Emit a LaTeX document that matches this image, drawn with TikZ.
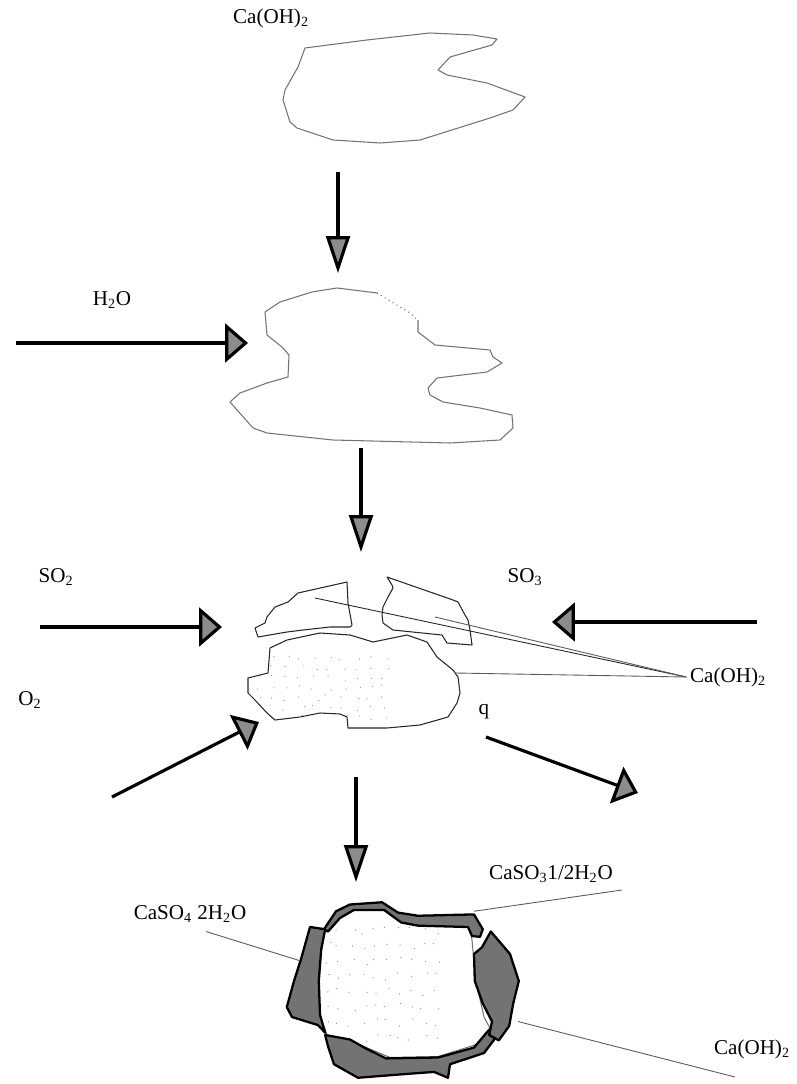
\documentclass[tikz,border=0pt]{standalone}
\usepackage{fontspec}
\setmainfont{Liberation Serif}
\usetikzlibrary{arrows.meta}
\tikzstyle{grain} = [draw=black!55, line width=0.6pt, line join=round]
\tikzstyle{frag} = [draw=black!85, line width=0.6pt, line join=round]
\tikzstyle{shell} = [draw=black, line width=1.3pt, fill=black!55, line join=round]
\tikzstyle{feed} = [line width=1.8pt, -{Triangle[length=13pt, width=22pt, fill=black!45]}]
\tikzstyle{fall} = [line width=1.8pt, -{Triangle[length=21pt, width=13.5pt, fill=black!45]}]
\tikzstyle{leader} = [draw=black!65, line width=0.5pt]
\tikzstyle{chem} = [font=\fontsize{12}{14}\selectfont, inner sep=1pt]
\tikzstyle{speck} = [fill=black!45]

\begin{document}
\begin{tikzpicture}[x=0.02cm, y=-0.02cm]
    \useasboundingbox (0,0) rectangle (796,1084);
    \pgfmathsetseed{11}

    % dry lime grain
    \node (limeTop) [chem] at (271,18) {Ca(OH)\textsubscript{2}};
    \draw [grain] (305,48) -- (367,40) -- (430,33) -- (473,35) -- (497,39) -- (492,45)
        -- (450,57) -- (438,70) -- (447,75) -- (487,83) -- (525,97) -- (513,110)
        -- (490,118) -- (420,140) -- (380,143) -- (333,140) -- (297,128) -- (290,122)
        -- (283,100) -- (285,90) -- (298,67) -- cycle;
    \coordinate (dropA) at (338,172);
    \coordinate (dropAEnd) at (338,273);
    \draw [fall] (dropA) -- (dropAEnd);

    % wetted grain
    \node (water) [chem] at (112,300) {H\textsubscript{2}O};
    \coordinate (waterIn) at (16,343);
    \coordinate (waterEnd) at (248,343);
    \draw [feed] (waterIn) -- (waterEnd);
    \draw [grain] (377,293) -- (337,288) -- (312,292) -- (280,302) -- (265,312) -- (267,335)
        -- (282,347) -- (289,355) -- (288,377) -- (267,383) -- (240,393) -- (230,402)
        -- (253,428) -- (267,433) -- (333,440) -- (450,443) -- (500,440) -- (513,428)
        -- (512,415) -- (480,408) -- (443,402) -- (430,395) -- (428,388) -- (437,378)
        -- (487,372) -- (502,363) -- (493,357) -- (490,350) -- (435,345) -- (418,332)
        -- (418,320);
    \draw [grain, dotted] (377,293) -- (410,313) -- (418,320);
    \coordinate (dropB) at (361,448);
    \coordinate (dropBEnd) at (361,552);
    \draw [fall] (dropB) -- (dropBEnd);

    % reacting grain
    \node (sdi) [chem] at (56,577) {SO\textsubscript{2}};
    \node (stri) [chem] at (525,577) {SO\textsubscript{3}};
    \node (oxy) [chem] at (30,700) {O\textsubscript{2}};
    \node (heat) [chem] at (484,712) {q};
    \node (limeMid) [chem, anchor=west] at (688,677) {Ca(OH)\textsubscript{2}};
    \coordinate (sdiIn) at (40,627);
    \coordinate (sdiEnd) at (222,627);
    \coordinate (striIn) at (757,622);
    \coordinate (striEnd) at (552,622);
    \coordinate (oxyIn) at (112,797);
    \coordinate (oxyEnd) at (259,722);
    \coordinate (heatOut) at (486,737);
    \coordinate (heatEnd) at (638,793);
    \draw [feed] (sdiIn) -- (sdiEnd);
    \draw [feed] (striIn) -- (striEnd);
    \draw [feed] (oxyIn) -- (oxyEnd);
    \draw [feed] (heatOut) -- (heatEnd);

    \draw [frag] (255,628) -- (265,623) -- (267,617) -- (275,607) -- (288,602) -- (298,593)
        -- (347,582) -- (348,603) -- (352,625) -- (350,627) -- (330,627) -- (303,630)
        -- (287,632) -- (258,637) -- cycle;
    \draw [frag] (387,577) -- (392,585) -- (393,588) -- (388,597) -- (383,607) -- (382,615)
        -- (383,623) -- (393,630) -- (442,635) -- (447,643) -- (472,645) -- (470,630)
        -- (468,620) -- (465,615) -- (458,602) -- (453,600) -- cycle;
    \begin{scope}
        \path [clip] (270,648) -- (287,640) -- (320,633) -- (350,635) -- (373,642) -- (407,635)
            -- (427,642) -- (437,657) -- (453,670) -- (458,677) -- (460,693) -- (457,703)
            -- (448,717) -- (420,725) -- (387,728) -- (348,728) -- (347,717) -- (340,714)
            -- (320,713) -- (300,717) -- (275,720) -- (267,713) -- (255,700) -- (248,693)
            -- (248,678) -- (268,673) -- cycle;
        \foreach \i in {0,...,9}
            \foreach \j in {0,...,6}
                \fill [speck] (255+\i*14+rnd*8, 655+\j*10+rnd*6) circle (0.6);
    \end{scope}
    \draw [frag] (270,648) -- (287,640) -- (320,633) -- (350,635) -- (373,642) -- (407,635)
        -- (427,642) -- (437,657) -- (453,670) -- (458,677) -- (460,693) -- (457,703)
        -- (448,717) -- (420,725) -- (387,728) -- (348,728) -- (347,717) -- (340,714)
        -- (320,713) -- (300,717) -- (275,720) -- (267,713) -- (255,700) -- (248,693)
        -- (248,678) -- (268,673) -- cycle;
    \coordinate (fragL) at (315,598);
    \coordinate (fragR) at (435,617);
    \coordinate (core) at (455,673);
    \draw [leader, draw=black!85] (fragL) -- ([xshift=-1]limeMid.west);
    \draw [leader] (fragR) -- ([xshift=-1]limeMid.west);
    \draw [leader] (core) -- ([xshift=-1]limeMid.west);

    \coordinate (dropC) at (356,777);
    \coordinate (dropCEnd) at (356,882);
    \draw [fall] (dropC) -- (dropCEnd);

    % sulphated grain
    \node (sulfite) [chem] at (551,874) {CaSO\textsubscript{3}1/2H\textsubscript{2}O};
    \node (gypsum) [chem] at (190,914) {CaSO\textsubscript{4} 2H\textsubscript{2}O};
    \node (limeLow) [chem] at (752,1049) {Ca(OH)\textsubscript{2}};
    \begin{scope}[shift={(158,747)}, xscale=0.4, yscale=0.45]
        \begin{scope}
            \path [clip] (412,410) -- (455,378) -- (490,360) -- (560,358) -- (612,390) -- (780,392)
                -- (785,430) -- (795,520) -- (815,600) -- (830,625) -- (800,660) -- (700,688)
                -- (580,690) -- (500,660) -- (425,645) -- (405,600) -- (400,500) -- (405,440) -- cycle;
            \foreach \i in {0,...,9}
                \foreach \j in {0,...,7}
                    \fill [speck] (415+\i*30+rnd*20, 400+\j*34+rnd*16) circle (1.5);
        \end{scope}
        \draw [grain] (412,410) -- (455,378) -- (490,360) -- (560,358) -- (612,390) -- (780,392)
            -- (785,430) -- (795,520) -- (815,600) -- (830,625) -- (800,660) -- (700,688)
            -- (580,690) -- (500,660) -- (425,645) -- (405,600) -- (400,500) -- (405,440) -- cycle;
        \draw [shell] (415,405) -- (445,365) -- (480,350) -- (560,345) -- (600,368) -- (650,375)
            -- (790,372) -- (812,405) -- (805,422) -- (785,420) -- (775,400) -- (650,397)
            -- (608,390) -- (565,362) -- (490,362) -- (455,380) -- (425,410) -- cycle;
        \draw [shell] (380,400) -- (418,405) -- (408,450) -- (402,520) -- (405,595) -- (418,635)
            -- (400,618) -- (335,600) -- (322,578) -- (340,520) -- (358,470) -- cycle;
        \draw [shell] (418,640) -- (480,650) -- (520,670) -- (570,692) -- (700,690) -- (790,668)
            -- (828,628) -- (845,645) -- (815,680) -- (730,705) -- (725,735) -- (690,722)
            -- (600,728) -- (500,735) -- (440,705) -- (425,665) -- cycle;
        \draw [shell] (832,410) -- (880,460) -- (902,520) -- (888,570) -- (878,620) -- (852,652)
            -- (828,640) -- (835,610) -- (812,570) -- (792,520) -- (790,460) -- (810,445) -- cycle;
        \coordinate (shellTop) at (790,365);
        \coordinate (shellLeft) at (355,475);
        \coordinate (shellRight) at (900,610);
        \coordinate (gypsumTip) at (120,410);
    \end{scope}
    \coordinate (sulfiteTip) at (622,890);
    \coordinate (limeLowTip) at (735,1077);
    \draw [leader] (shellTop) -- (sulfiteTip);
    \draw [leader] (gypsumTip) -- (shellLeft);
    \draw [leader] (shellRight) -- (limeLowTip);
\end{tikzpicture}
\end{document}
